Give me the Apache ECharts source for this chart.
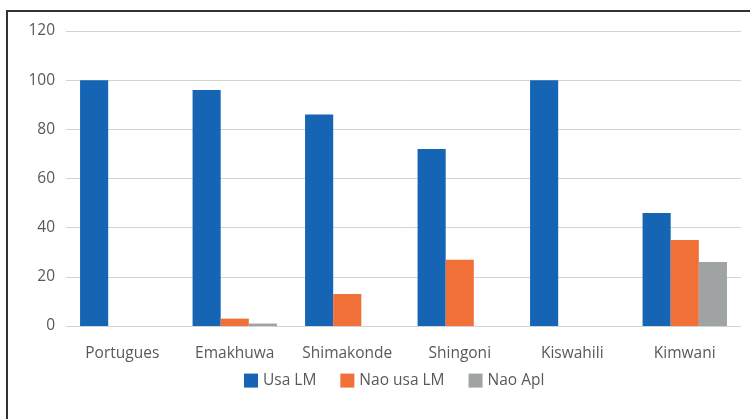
<!DOCTYPE html>
<title>linguas</title>
<style>
body {margin: 0; background: #fff;}
#echart {height: 419px; width: 750px;}
</style>
<div id='echart'></div>
<script src='https://cdn.jsdelivr.net/npm/echarts@6/dist/echarts.min.js'></script>
<script>
let categories = ['Portugues', 'Emakhuwa', 'Shimakonde', 'Shingoni', 'Kiswahili', 'Kimwani']
let usa_lm = [100, 96, 86, 72, 100, 46]
let nao_usa_lm = [0, 3, 13, 27, 0, 35]
let nao_apl = [0, 1, 0, 0, 0, 26]
let y_ticks = [0, 20, 40, 60, 80, 100, 120]

let font = "'Open Sans', 'Noto Sans', sans-serif"
let bar = (name, data, color) => ({type: 'bar', name, data, barGap: 0, barCategoryGap: '25%', itemStyle: {color}})

let echart = echarts.init(document.querySelector('#echart'))
echart.setOption({
	animation: false,
	textStyle: {fontFamily: font},
	grid: {left: 66, right: 9, top: 31, bottom: 93},
	xAxis: {
		type: 'category', data: categories,
		axisLine: {show: false}, axisTick: {show: false},
		axisLabel: {color: '#595959', fontSize: 15.5, margin: 15, interval: 0, fontFamily: font},
	},
	yAxis: {
		type: 'value', min: y_ticks[0], max: y_ticks[y_ticks.length - 1], interval: 20,
		axisLabel: {color: '#595959', fontSize: 15.5, margin: 11, fontFamily: font},
		splitLine: {lineStyle: {color: '#d3d3d3', width: 1}},
	},
	legend: {
		top: 363, left: 239, itemWidth: 14, itemHeight: 14, itemGap: 24, icon: 'rect',
		textStyle: {color: '#595959', fontSize: 15.5, fontFamily: font},
	},
	series: [
		bar('Usa LM', usa_lm, '#1565b4'),
		bar('Nao usa LM', nao_usa_lm, '#f07038'),
		bar('Nao Apl', nao_apl, '#a0a3a3'),
	],
	graphic: [{type: 'rect', shape: {x: 7, y: 11, width: 800, height: 500}, style: {fill: 'none', stroke: '#333', lineWidth: 2}, silent: true}],
})
</script>
